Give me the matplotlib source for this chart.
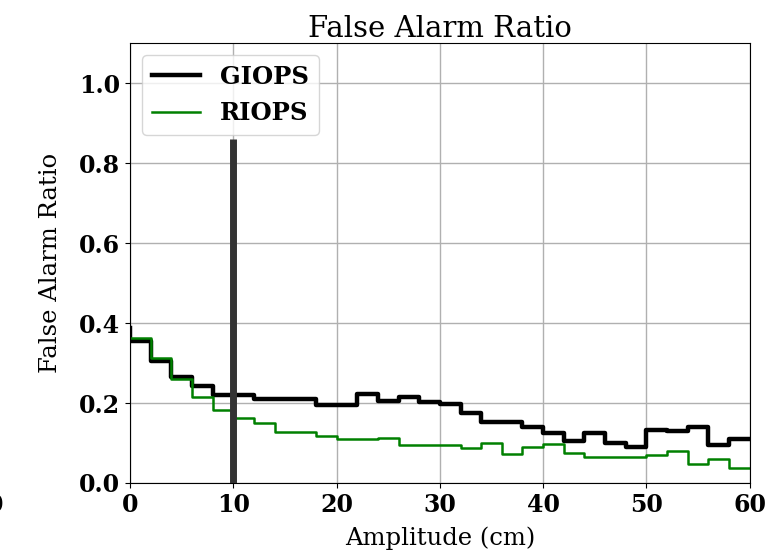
import numpy as np
import matplotlib
matplotlib.use("Agg")
import matplotlib.pyplot as plt

# bin edges (cm) and false alarm ratio per bin, first value is the start point
amp_edges = np.arange(0, 62, 2)
giops_far = [0.388,
             0.354, 0.304, 0.265, 0.243, 0.220, 0.220, 0.210, 0.210, 0.210, 0.195,
             0.195, 0.222, 0.206, 0.216, 0.203, 0.197, 0.175, 0.153, 0.153, 0.139,
             0.124, 0.105, 0.125, 0.099, 0.090, 0.133, 0.130, 0.140, 0.095, 0.111]
riops_far = [0.363,
             0.363, 0.312, 0.260, 0.214, 0.183, 0.163, 0.150, 0.128, 0.128, 0.117,
             0.109, 0.109, 0.113, 0.095, 0.095, 0.095, 0.087, 0.101, 0.073, 0.091,
             0.097, 0.076, 0.065, 0.065, 0.065, 0.069, 0.079, 0.047, 0.060, 0.037]
threshold = 10
threshold_top = 0.86

plt.rcParams['font.family'] = 'DejaVu Serif'

fig = plt.figure(figsize=(7.73, 5.52), dpi=100)
ax = fig.add_axes([0.168, 0.125, 0.802, 0.797])

ax.step(amp_edges, giops_far, where='pre', color='black', lw=3.2, label='GIOPS')
ax.step(amp_edges, riops_far, where='pre', color='green', lw=1.8, label='RIOPS')
ax.vlines(threshold, 0, threshold_top, color='#333333', lw=5, zorder=3)

ax.set_xlim(0, 60)
ax.set_ylim(0, 1.1)
ax.set_xticks(np.arange(0, 61, 10))
ax.set_yticks(np.arange(0, 1.01, 0.2))
ax.grid(True, color='#b0b0b0', lw=1)
ax.set_axisbelow(True)

for lab in ax.get_xticklabels() + ax.get_yticklabels():
    lab.set_fontweight('bold')
    lab.set_fontsize(17)

ax.set_title('False Alarm Ratio', fontsize=21, pad=4)
ax.set_xlabel('Amplitude (cm)', fontsize=17.5, labelpad=7)
ax.set_ylabel('False Alarm Ratio', fontsize=17.5, labelpad=12)

leg = ax.legend(loc='upper left', prop={'weight': 'bold', 'size': 17.5},
                borderaxespad=0.5, handlelength=2.0)

# clipped tick label left over from a neighbouring panel
fig.text(0.004, 0.085, '0', ha='right', va='center', fontsize=17, fontweight='bold')

fig.savefig('out.png', dpi=100)
